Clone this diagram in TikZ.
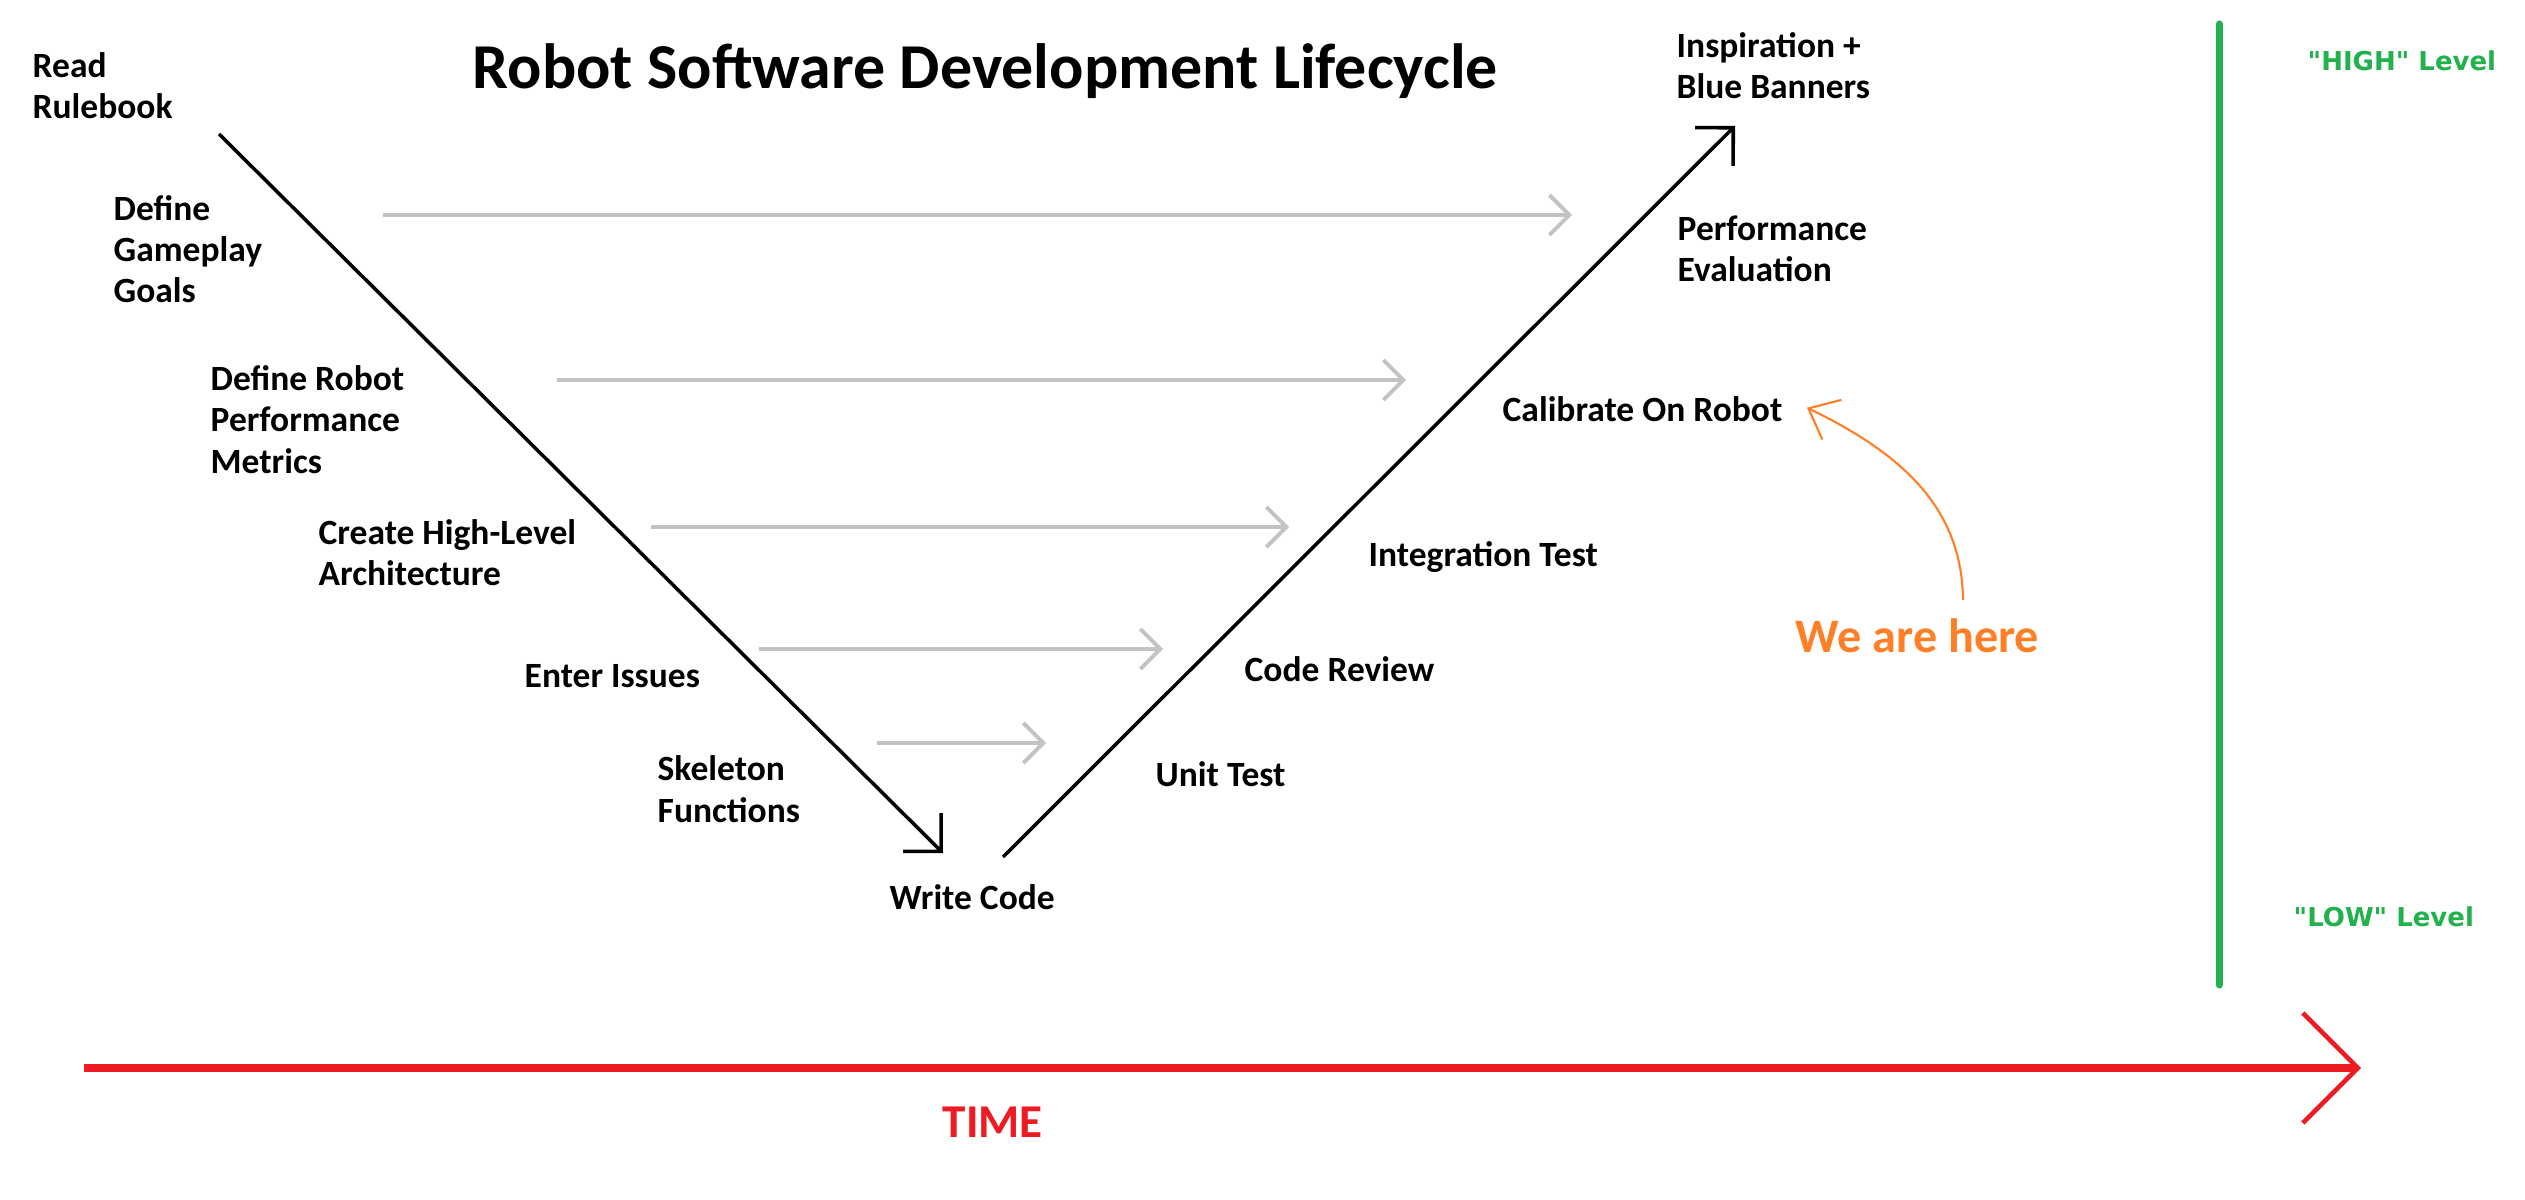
\documentclass[tikz,border=0pt]{standalone}
\usepackage{fontspec}
\setmainfont{Carlito}
\newfontfamily\levelfont{DejaVu Sans}
\usetikzlibrary{arrows.meta}

\definecolor{paintgrey}{HTML}{C3C3C3}
\definecolor{paintred}{HTML}{ED1C24}
\definecolor{paintgreen}{HTML}{22B14C}
\definecolor{paintorange}{HTML}{FF7F27}

\begin{document}
\begin{tikzpicture}[x=0.1mm, y=-0.1mm,
    phase/.style={anchor=base west, inner sep=0pt, align=left,
        font=\fontsize{10.1pt}{11.7pt}\selectfont\bfseries},
    vline/.style={line width=1pt, -{Straight Barb[length=2.7mm, width=5.4mm, line width=1pt]}},
    greyarr/.style={paintgrey, line width=1.1pt, -{Straight Barb[length=2mm, width=4mm, line width=1.1pt]}},
    levelnote/.style={anchor=base west, inner sep=0pt, text=paintgreen,
        font=\levelfont\fontsize{7.4pt}{9pt}\selectfont\bfseries}]
\useasboundingbox (0,0) rectangle (2525,1200);

% title
\node[anchor=base west, inner sep=0pt, font=\fontsize{18.2pt}{21pt}\selectfont\bfseries]
    (title) at (472,89) {Robot Software Development Lifecycle};

% left side of the V (placed by the baseline of the last line)
\node[phase] (read) at (32,119) {Read\\Rulebook};
\node[phase] (goals) at (113,303) {Define\\Gameplay\\Goals};
\node[phase] (metrics) at (210,473) {Define Robot\\Performance\\Metrics};
\node[phase] (arch) at (318,586) {Create High-Level\\Architecture};
\node[phase] (issues) at (524,687) {Enter Issues};
\node[phase] (skel) at (657,822) {Skeleton\\Functions};
\node[phase] (write) at (889,909) {Write Code};

% right side of the V
\node[phase] (unit) at (1155,786) {Unit Test};
\node[phase] (review) at (1244,682) {Code Review};
\node[phase] (integ) at (1368,567) {Integration Test};
\node[phase] (calib) at (1502,422) {Calibrate On Robot};
\node[phase] (perf) at (1677,282) {Performance\\Evaluation};
\node[phase] (insp) at (1676,99) {Inspiration +\\Blue Banners};

% the V itself
\coordinate (vtop) at (219,134);
\coordinate (vbot) at (943,853);
\coordinate (wbot) at (1003,857);
\coordinate (wtop) at (1735,126);
\draw[vline] (vtop) -- (vbot);
\draw[vline] (wbot) -- (wtop);

% grey links between matching phases
\foreach \i/\yy/\xa/\xb in {1/215/383/1572, 2/380/557/1406, 3/527/651/1289,
                            4/649/759/1163, 5/743/877/1046} {
    \coordinate (g\i a) at (\xa,\yy);
    \coordinate (g\i b) at (\xb,\yy);
    \draw[greyarr] (g\i a) -- (g\i b);
}

% we are here
\node[anchor=base west, inner sep=0pt, text=paintorange,
      font=\fontsize{13.7pt}{16pt}\selectfont\bfseries] (here) at (1795,652) {We are here};
\coordinate (hstart) at (1963,600);
\draw[paintorange, line width=0.6pt, -{Straight Barb[length=2.6mm, width=4.4mm, line width=0.6pt]}]
    (hstart) .. controls (1962,510) and (1905,455) .. ([xshift=2.4mm, yshift=0.2mm]calib.east);

% levels
\coordinate (ghigh) at (2219,24);
\coordinate (glow) at (2219,985);
\draw[paintgreen, line width=2pt, line cap=round] (ghigh) -- (glow);
\node[levelnote] (high) at (2307,71) {"HIGH" Level};
\node[levelnote] (low) at (2293,926) {"LOW" Level};

% time axis
\coordinate (tstart) at (84,1068);
\coordinate (tend) at (2361,1068);
\draw[paintred, line width=2.2pt, -{Straight Barb[length=5.5mm, width=11mm, line width=1.3pt]}]
    (tstart) -- (tend);
\node[anchor=base west, inner sep=0pt, text=paintred,
      font=\fontsize{13.4pt}{16pt}\selectfont\bfseries] (time) at (942,1137) {TIME};
\end{tikzpicture}
\end{document}
